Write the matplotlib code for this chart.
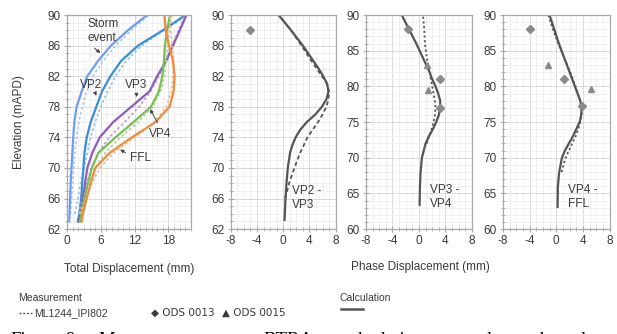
"""
measurement vs calculation: total and phase displacement profiles
"""

import matplotlib
matplotlib.use("Agg")
import matplotlib.pyplot as plt
from matplotlib.ticker import MultipleLocator, FixedLocator
from matplotlib.lines import Line2D

plt.rcParams["font.family"] = ["Liberation Sans", "DejaVu Sans"]
plt.rcParams["axes.unicode_minus"] = False

# ---- total displacement (mm) vs elevation (mAPD) ----
elev = [63, 64, 66, 68, 70, 72, 74, 76, 78, 80, 82, 84, 86, 88, 90]
storm_calc = [0.4, 0.45, 0.55, 0.65, 0.8, 0.95, 1.1, 1.3, 1.7, 2.6, 3.6, 5.5, 7.8, 10.8, 14.2]
vp2_calc = [1.9, 2.2, 2.5, 2.7, 2.9, 3.1, 3.5, 4.2, 5.2, 6.2, 7.7, 9.6, 12.6, 17.0, 21.0]
vp3_calc = [2.2, 2.4, 2.8, 3.2, 3.6, 4.5, 5.8, 8.2, 11.4, 14.6, 16.0, 17.6, 18.8, 20.0, 21.2]
vp4_calc = [2.3, 2.5, 3.1, 3.7, 4.4, 5.6, 8.6, 11.8, 14.9, 16.3, 16.9, 17.2, 17.4, 17.7, 18.3]
ffl_calc = [2.6, 2.8, 3.5, 4.2, 5.0, 7.6, 11.5, 15.7, 18.2, 18.9, 19.1, 18.8, 18.1, 17.5, 17.3]

elev_meas = [64, 66, 68, 70, 72, 74, 76, 78, 80, 82, 84, 86, 88, 90]
storm_meas = [0.6, 0.8, 1.0, 1.2, 1.4, 1.7, 2.1, 2.7, 3.5, 4.6, 6.4, 8.6, 11.4, 14.6]
vp2_meas = [1.4, 1.9, 2.4, 3.0, 3.6, 4.2, 5.0, 6.0, 7.2, 8.6, 10.5, 13.2, 17.2, 21.4]
vp3_meas = [2.0, 2.7, 3.5, 4.3, 5.6, 7.5, 10.2, 12.8, 14.8, 16.3, 17.5, 18.6, 19.8, 21.0]
vp4_meas = [2.2, 3.0, 3.9, 5.0, 6.8, 9.5, 12.6, 15.2, 16.6, 17.3, 17.6, 17.9, 18.2, 18.6]
ffl_meas = [2.4, 3.4, 4.4, 5.8, 8.3, 12.0, 15.5, 17.6, 18.5, 18.8, 18.9, 18.7, 18.4, 18.2]

# ---- phase displacement (mm) ----
p2_y = [63.2, 66, 68, 70, 72, 73, 74, 75, 76, 77, 78, 79, 80, 81, 82, 83, 84, 86, 88, 90]
p2_calc = [0.2, 0.35, 0.5, 0.7, 1.05, 1.4, 1.9, 2.6, 3.6, 4.9, 5.9, 6.6, 6.9, 6.7, 6.1, 5.4, 4.6, 3.0, 1.2, -0.7]
p2_my = [66, 67, 68, 70, 72, 74, 76, 77, 78, 79, 80, 81, 82, 83, 84, 86, 88, 90]
p2_meas = [0.3, 0.6, 0.9, 1.7, 2.6, 3.7, 5.3, 6.0, 6.6, 6.9, 7.0, 6.7, 5.9, 5.1, 4.3, 2.8, 1.2, -0.7]

p3_y = [63.4, 66, 68, 70, 72, 73, 74, 75, 76, 77, 78, 79, 80, 81, 82, 83, 84, 86, 88, 90]
p3_calc = [0.1, 0.15, 0.25, 0.45, 1.0, 1.5, 2.1, 2.6, 3.0, 3.2, 3.2, 2.9, 2.5, 2.0, 1.6, 1.1, 0.6, -0.4, -1.5, -2.6]
p3_my = [72, 73, 74, 75, 76, 77, 78, 79, 80, 82, 84, 86, 88, 90]
p3_meas = [1.2, 1.5, 1.9, 2.2, 2.4, 2.5, 2.4, 2.2, 2.0, 1.6, 1.2, 0.9, 0.8, 0.6]

p4_y = [63.1, 66, 68, 70, 71, 72, 73, 74, 75, 76, 77, 78, 79, 80, 81, 82, 84, 86, 88, 90]
p4_calc = [0.2, 0.25, 0.45, 0.85, 1.3, 1.9, 2.5, 3.0, 3.5, 3.75, 3.8, 3.6, 3.2, 2.8, 2.4, 2.0, 1.2, 0.4, -0.3, -1.0]
p4_my = [68, 70, 71, 72, 73, 74, 75, 76, 77, 78, 80, 82, 84, 86, 88, 90]
p4_meas = [0.8, 1.4, 1.9, 2.4, 2.9, 3.3, 3.6, 3.8, 3.8, 3.6, 2.9, 2.1, 1.2, 0.3, -0.5, -1.2]

# survey points: ODS 0013 (diamond), ODS 0015 (triangle)
p2_ods13_x, p2_ods13_y = [-5.0], [88.0]
p3_ods13_x, p3_ods13_y = [-1.6, 3.1, 3.1], [88.0, 81.0, 77.0]
p3_ods15_x, p3_ods15_y = [1.2, 1.4], [83.0, 79.5]
p4_ods13_x, p4_ods13_y = [-3.9, 1.1, 3.8], [88.0, 81.0, 77.2]
p4_ods15_x, p4_ods15_y = [-1.2, 5.2], [83.0, 79.6]

elev_ticks = [62, 66, 70, 74, 78, 82, 86, 90]

TXT = "#3a3a3a"
GRAY = "#555555"
MK = "#8a8a8a"


def style_axes(ax, xmaj, ymaj):
    ax.xaxis.set_major_locator(MultipleLocator(xmaj))
    ax.xaxis.set_minor_locator(MultipleLocator(1))
    if ymaj is None:
        ax.yaxis.set_major_locator(FixedLocator(elev_ticks))
    else:
        ax.yaxis.set_major_locator(MultipleLocator(ymaj))
    ax.yaxis.set_minor_locator(MultipleLocator(1))
    ax.grid(which="major", color="#d4d4d4", lw=0.6)
    ax.grid(which="minor", color="#ececec", lw=0.5)
    ax.set_axisbelow(True)
    for s in ax.spines.values():
        s.set_color("#a8a8a8")
        s.set_linewidth(0.9)
    ax.tick_params(which="both", direction="inout", color="#a8a8a8")
    ax.tick_params(which="major", length=5, labelsize=8.5, labelcolor=TXT, pad=2)
    ax.tick_params(which="minor", length=3)


fig = plt.figure(figsize=(6.17, 3.34), dpi=100)
bot, h = 0.314, 0.641
ax1 = fig.add_axes([0.1086, bot, 0.201, h])
ax2 = fig.add_axes([0.374, bot, 0.170, h])
ax3 = fig.add_axes([0.593, bot, 0.172, h])
ax4 = fig.add_axes([0.815, bot, 0.173, h])

# total displacement panel
cols = ["#6d9cf0", "#3b8fd4", "#8c5cc0", "#79bc58", "#f08a3e"]
light = ["#a9c6f7", "#8cc1e8", "#b99ad8", "#aad694", "#f5b587"]
calc = [storm_calc, vp2_calc, vp3_calc, vp4_calc, ffl_calc]
meas = [storm_meas, vp2_meas, vp3_meas, vp4_meas, ffl_meas]
for c, lc, xs, xm in zip(cols, light, calc, meas):
    ax1.plot(xm, elev_meas, color=lc, lw=1.2, ls=(0, (1.5, 1.5)))
    ax1.plot(xs, elev, color=c, lw=1.6)
ax1.set_xlim(0, 22)
ax1.set_ylim(62, 90)
style_axes(ax1, 6, None)
ax1.set_xlabel("Total Displacement (mm)", fontsize=8.5, color=TXT, labelpad=11)
ax1.set_ylabel("Elevation (mAPD)", fontsize=8.5, color=TXT, labelpad=16)

arr = dict(arrowstyle="-|>", color="#444444", lw=0.7, mutation_scale=5)
ax1.text(3.7, 89.6, "Storm\nevent", fontsize=8.5, color=TXT, va="top", linespacing=1.25)
ax1.annotate("", xy=(6.3, 84.8), xytext=(4.5, 85.9), arrowprops=arr)
ax1.text(4.3, 80.8, "VP2", fontsize=8.5, color=TXT, ha="center", va="center")
ax1.annotate("", xy=(5.4, 79.1), xytext=(4.9, 80.0), arrowprops=arr)
ax1.text(12.2, 80.8, "VP3", fontsize=8.5, color=TXT, ha="center", va="center")
ax1.annotate("", xy=(12.4, 78.9), xytext=(12.3, 79.9), arrowprops=arr)
ax1.text(16.6, 74.5, "VP4", fontsize=8.5, color=TXT, ha="center", va="center")
ax1.annotate("", xy=(14.5, 78.0), xytext=(16.3, 75.6), arrowprops=arr)
ax1.text(13.0, 71.3, "FFL", fontsize=8.5, color=TXT, ha="center", va="center")
ax1.annotate("", xy=(9.0, 72.6), xytext=(10.8, 71.8), arrowprops=arr)

# phase panels
dash = (0, (2.2, 1.6))
dot = (0, (1.2, 1.4))
ax2.plot(p2_meas, p2_my, color=GRAY, lw=1.3, ls=dash)
ax2.plot(p2_calc, p2_y, color=GRAY, lw=1.6)
ax2.plot(p2_ods13_x, p2_ods13_y, ls="none", marker="D", ms=4, color=MK)
ax2.set_ylim(62, 90)
style_axes(ax2, 4, None)
ax2.text(1.3, 67.8, "VP2 -\nVP3", fontsize=8.5, color=TXT, va="top", linespacing=1.2)

ax3.plot(p3_meas, p3_my, color=GRAY, lw=1.3, ls=dot)
ax3.plot(p3_calc, p3_y, color=GRAY, lw=1.6)
ax3.plot(p3_ods13_x, p3_ods13_y, ls="none", marker="D", ms=4, color=MK)
ax3.plot(p3_ods15_x, p3_ods15_y, ls="none", marker="^", ms=5, color=MK)
ax3.set_ylim(60, 90)
style_axes(ax3, 4, 5)
ax3.text(1.6, 66.3, "VP3 -\nVP4", fontsize=8.5, color=TXT, va="top", linespacing=1.2)

ax4.plot(p4_meas, p4_my, color=GRAY, lw=1.3, ls=dot)
ax4.plot(p4_calc, p4_y, color=GRAY, lw=1.6)
ax4.plot(p4_ods13_x, p4_ods13_y, ls="none", marker="D", ms=4, color=MK)
ax4.plot(p4_ods15_x, p4_ods15_y, ls="none", marker="^", ms=5, color=MK)
ax4.set_ylim(60, 90)
style_axes(ax4, 4, 5)
ax4.text(1.7, 66.3, "VP4 -\nFFL", fontsize=8.5, color=TXT, va="top", linespacing=1.2)

for ax in (ax2, ax3, ax4):
    ax.set_xlim(-8, 8)

fig.text(0.681, 0.2, "Phase Displacement (mm)", fontsize=8.5, color=TXT, ha="center", va="center")

# legend block
fig.text(0.029, 0.108, "Measurement", fontsize=7.5, color=TXT, va="center")
fig.add_artist(Line2D([0.030, 0.052], [0.063, 0.063], color=GRAY, lw=1.0, ls=(0, (1.5, 1.2))))
fig.text(0.055, 0.063, "ML1244_IPI802", fontsize=7.5, color=TXT, va="center")
fig.text(0.245, 0.063, "\u25c6 ODS 0013", fontsize=7.5, color=TXT, va="center",
         family=["DejaVu Sans"])
fig.text(0.360, 0.063, "\u25b2 ODS 0015", fontsize=7.5, color=TXT, va="center",
         family=["DejaVu Sans"])
fig.text(0.551, 0.108, "Calculation", fontsize=7.5, color=TXT, va="center")
fig.add_artist(Line2D([0.552, 0.589], [0.075, 0.075], color=GRAY, lw=1.8))

# figure caption, cut by the bottom edge
cap_words = ["Figure", "9.", "Measurement", "vs", "BTRA", "calculation", "\u2013", "total", "and", "phase"]
cap_x = [10, 65, 98, 227, 263, 341, 430, 460, 517, 573]
for w, x in zip(cap_words, cap_x):
    fig.text(x / 617, -0.034, w, fontsize=13.5, family=["Liberation Serif"], color="black",
             va="baseline")

fig.savefig("out.png", dpi=100)
